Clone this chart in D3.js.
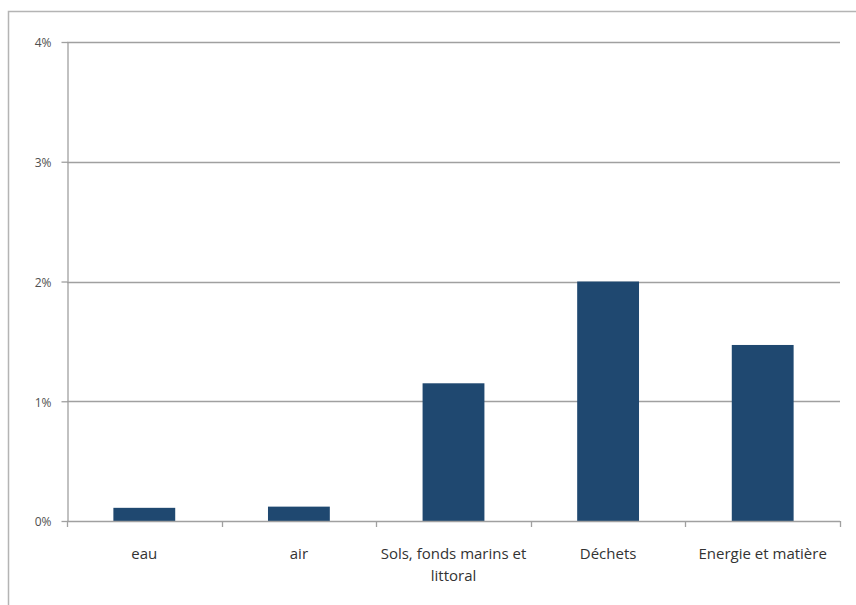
<!DOCTYPE html>
<html>
<head>
<meta charset="utf-8">
<script src="https://cdn.jsdelivr.net/npm/d3@7"></script>
<style>
  html, body { margin: 0; padding: 0; background: #fff; }
  svg { display: block; }
</style>
</head>
<body>
<svg id="chart" width="856" height="605"></svg>
<script>
// Share of each environmental domain (percent)
const categories = ["eau", "air", "Sols, fonds marins et littoral", "Déchets", "Energie et matière"];
const labelLines = [["eau"], ["air"], ["Sols, fonds marins et", "littoral"], ["Déchets"], ["Energie et matière"]];
const values = [0.11, 0.12, 1.15, 2.0, 1.47];
const yTicks = [0, 1, 2, 3, 4];

const svg = d3.select("#chart");
const plotLeft = 67, plotRight = 840, plotTop = 42, plotBottom = 521;
const font = "'Open Sans', 'Noto Sans', sans-serif";

// outer chart frame
svg.append("rect")
  .attr("x", 8.5).attr("y", 11.5)
  .attr("width", 900).attr("height", 700)
  .attr("fill", "none").attr("stroke", "#b4b4b4").attr("stroke-width", 1.5);

const x = d3.scaleBand().domain(categories).range([plotLeft, plotRight]).paddingInner(0.6).paddingOuter(0.3);
const y = d3.scaleLinear().domain([0, 4]).range([plotBottom, plotTop]);

// horizontal gridlines
svg.append("g").selectAll("line").data(yTicks.filter(d => d > 0)).join("line")
  .attr("x1", plotLeft).attr("x2", plotRight)
  .attr("y1", d => Math.round(y(d)) + 0.5).attr("y2", d => Math.round(y(d)) + 0.5)
  .attr("stroke", "#a0a0a0").attr("stroke-width", 1.3);

// bars
svg.append("g").selectAll("rect").data(values).join("rect")
  .attr("x", (d, i) => x(categories[i]))
  .attr("width", x.bandwidth())
  .attr("y", d => y(d))
  .attr("height", d => y(0) - y(d))
  .attr("fill", "#1f4870");

// y axis
const yAxis = svg.append("g")
  .attr("transform", `translate(${plotLeft + 0.5},0)`)
  .call(d3.axisLeft(y).tickValues(yTicks).tickFormat(d => d + "%").tickSize(6).tickSizeOuter(0));
yAxis.select(".domain").attr("stroke", "#a0a0a0").attr("stroke-width", 1.3);
yAxis.selectAll(".tick line").attr("stroke", "#a0a0a0").attr("stroke-width", 1.3);
yAxis.selectAll(".tick text")
  .attr("x", -16)
  .attr("dy", "0.4em")
  .attr("fill", "#505050").attr("font-family", font).attr("font-size", 12);

// x axis with ticks at band boundaries
const boundaries = categories.map(c => x(c) - x.step() * x.paddingInner() / 2);
boundaries[0] = plotLeft;
boundaries.push(plotRight);
svg.append("line")
  .attr("x1", plotLeft).attr("x2", plotRight)
  .attr("y1", plotBottom + 0.5).attr("y2", plotBottom + 0.5)
  .attr("stroke", "#a0a0a0").attr("stroke-width", 1.3);
svg.append("g").selectAll("line").data(boundaries).join("line")
  .attr("x1", d => Math.round(d) + 0.5).attr("x2", d => Math.round(d) + 0.5)
  .attr("y1", plotBottom).attr("y2", plotBottom + 6)
  .attr("stroke", "#a0a0a0").attr("stroke-width", 1.3);

// category labels
const lab = svg.append("g").selectAll("text").data(categories).join("text")
  .attr("x", c => x(c) + x.bandwidth() / 2)
  .attr("y", 559)
  .attr("text-anchor", "middle")
  .attr("fill", "#333")
  .attr("font-family", font)
  .attr("font-size", 15);
lab.each(function(c, i) {
  d3.select(this).selectAll("tspan").data(labelLines[i]).join("tspan")
    .attr("x", x(c) + x.bandwidth() / 2)
    .attr("dy", (d, j) => j === 0 ? 0 : 22)
    .text(d => d);
});
</script>
</body>
</html>
